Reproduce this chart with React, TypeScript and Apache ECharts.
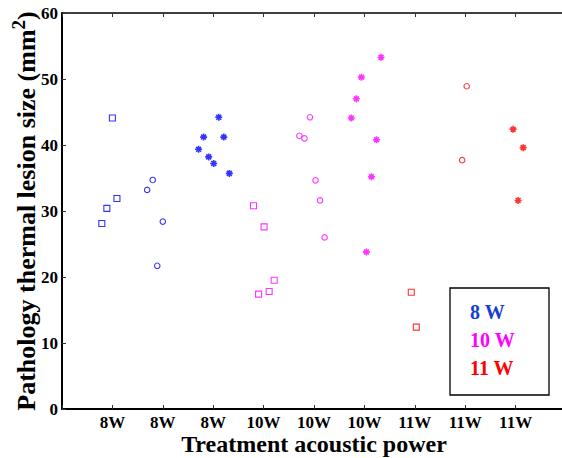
import React, { useEffect, useRef } from "react";
import * as echarts from "echarts";

const xTickLabels = ["8W", "8W", "8W", "10W", "10W", "10W", "11W", "11W", "11W"];
const legendNames = ["8 W", "10 W", "11 W"];

const blueSquares = [[1.0, 44.1], [1.09, 31.9], [0.89, 30.4], [0.79, 28.1]];
const blueCircles = [[1.8, 34.7], [1.69, 33.2], [2.0, 28.4], [1.89, 21.7]];
const blueStars = [[3.11, 44.2], [2.81, 41.2], [3.21, 41.2], [2.71, 39.35], [2.91, 38.2], [3.01, 37.2], [3.32, 35.7]];

const magentaSquares = [[3.8, 30.8], [4.01, 27.6], [4.21, 19.5], [4.11, 17.8], [3.9, 17.4]];
const magentaCircles = [[4.92, 44.2], [4.71, 41.4], [4.81, 41.0], [5.03, 34.65], [5.12, 31.6], [5.21, 26.0]];
const magentaStars = [[6.33, 53.3], [5.94, 50.25], [5.84, 47.0], [5.74, 44.1], [6.24, 40.8], [6.14, 35.2], [6.04, 23.8]];

const redSquares = [[6.93, 17.7], [7.03, 12.4]];
const redCircles = [[8.03, 48.9], [7.94, 37.7]];
const redStars = [[8.95, 42.4], [9.15, 39.6], [9.05, 31.6]];

const FONT = "'Liberation Serif', 'Times New Roman', serif";
const STAR = "path://M5 0L5 10M0 5L10 5M1.5 1.5L8.5 8.5M8.5 1.5L1.5 8.5";

function makeSeries(name: string, color: string, data: number[][], shape: string) {
  const isStar = shape === "star";
  const isSquare = shape === "square";
  return {
    name,
    type: "scatter",
    data,
    symbol: isStar ? STAR : isSquare ? "rect" : "circle",
    symbolSize: isStar ? 7 : isSquare ? 6 : 5.5,
    itemStyle: isStar
      ? { color, borderColor: color, borderWidth: 1.6 }
      : { color: "rgba(0,0,0,0)", borderColor: color, borderWidth: 1.1 },
    xAxisIndex: 0,
    yAxisIndex: 0,
  };
}

export default function App() {
  const ref = useRef<HTMLDivElement>(null);
  useEffect(() => {
    if (!ref.current) return;
    const chart = echarts.init(ref.current, undefined, { renderer: "svg" });
    const blue = "#0000ff";
    const magenta = "#ff00ff";
    const red = "#ff0000";
    const tickStyle = { show: true, inside: true, length: 4, lineStyle: { color: "#333", width: 1 } };
    chart.setOption({
      animation: false,
      grid: { left: 62, top: 13, width: 504, height: 396, containLabel: false, outerBoundsMode: "none" },
      legend: {
        show: true,
        orient: "vertical",
        left: 465,
        top: 302,
        icon: "none",
        itemWidth: 0,
        itemHeight: 20,
        itemGap: 8,
        padding: 0,
        selectedMode: false,
        data: [
          { name: legendNames[0], textStyle: { color: "#1a3fcf" } },
          { name: legendNames[1], textStyle: { color: magenta } },
          { name: legendNames[2], textStyle: { color: red } },
        ],
        textStyle: { fontFamily: FONT, fontWeight: "bold", fontSize: 20 },
      },
      graphic: [
        {
          type: "rect",
          shape: { x: 450, y: 288, width: 99, height: 107 },
          style: { fill: "none", stroke: "#000", lineWidth: 1.3 },
          z: 10,
        },
      ],
      xAxis: [
        {
          type: "value",
          min: 0,
          max: 10,
          interval: 1,
          position: "bottom",
          axisLine: { show: true, onZero: false, lineStyle: { color: "#000", width: 2 } },
          axisTick: tickStyle,
          splitLine: { show: false },
          axisLabel: {
            margin: 5,
            fontFamily: FONT,
            fontWeight: "bold",
            fontSize: 17,
            lineHeight: 16,
            color: "#000",
            formatter: (v: number) => (v >= 1 && v <= 9 ? xTickLabels[Math.round(v) - 1] : ""),
          },
          name: "Treatment acoustic power",
          nameLocation: "middle",
          nameGap: 25,
          nameMoveOverlap: false,
          nameTextStyle: { fontFamily: FONT, fontWeight: "bold", fontSize: 24, lineHeight: 20, color: "#000" },
        },
        {
          type: "value",
          min: 0,
          max: 10,
          interval: 1,
          position: "top",
          axisLine: { show: true, onZero: false, lineStyle: { color: "#000", width: 1.5 } },
          axisTick: tickStyle,
          axisLabel: { show: false },
          splitLine: { show: false },
        },
      ],
      yAxis: [
        {
          type: "value",
          min: 0,
          max: 60,
          interval: 10,
          position: "left",
          axisLine: { show: true, onZero: false, lineStyle: { color: "#000", width: 2 } },
          axisTick: tickStyle,
          splitLine: { show: false },
          axisLabel: { margin: 4, fontFamily: FONT, fontWeight: "bold", fontSize: 17, color: "#000" },
          name: "{a|Pathology thermal lesion size (mm}{s|2}{a|)}",
          nameLocation: "middle",
          nameRotate: 90,
          nameGap: 23,
          nameMoveOverlap: false,
          nameTextStyle: {
            rich: {
              a: { fontFamily: FONT, fontWeight: "bold", fontSize: 26, color: "#000", lineHeight: 30, verticalAlign: "bottom" },
              s: { fontFamily: FONT, fontWeight: "bold", fontSize: 19, color: "#000", lineHeight: 30, verticalAlign: "top" },
            },
          },
        },
        {
          type: "value",
          min: 0,
          max: 60,
          interval: 10,
          position: "right",
          axisLine: { show: true, onZero: false, lineStyle: { color: "#000", width: 1.5 } },
          axisTick: tickStyle,
          axisLabel: { show: false },
          splitLine: { show: false },
        },
      ],
      series: [
        makeSeries(legendNames[0], blue, blueSquares, "square"),
        makeSeries(legendNames[0], blue, blueCircles, "circle"),
        makeSeries(legendNames[0], blue, blueStars, "star"),
        makeSeries(legendNames[1], magenta, magentaSquares, "square"),
        makeSeries(legendNames[1], magenta, magentaCircles, "circle"),
        makeSeries(legendNames[1], magenta, magentaStars, "star"),
        makeSeries(legendNames[2], red, redSquares, "square"),
        makeSeries(legendNames[2], red, redCircles, "circle"),
        makeSeries(legendNames[2], red, redStars, "star"),
      ],
    });
    return () => chart.dispose();
  }, []);
  return (
    <div
      ref={ref}
      style={{ position: "fixed", left: 0, top: 0, width: 562, height: 458, background: "#fff" }}
    />
  );
}
